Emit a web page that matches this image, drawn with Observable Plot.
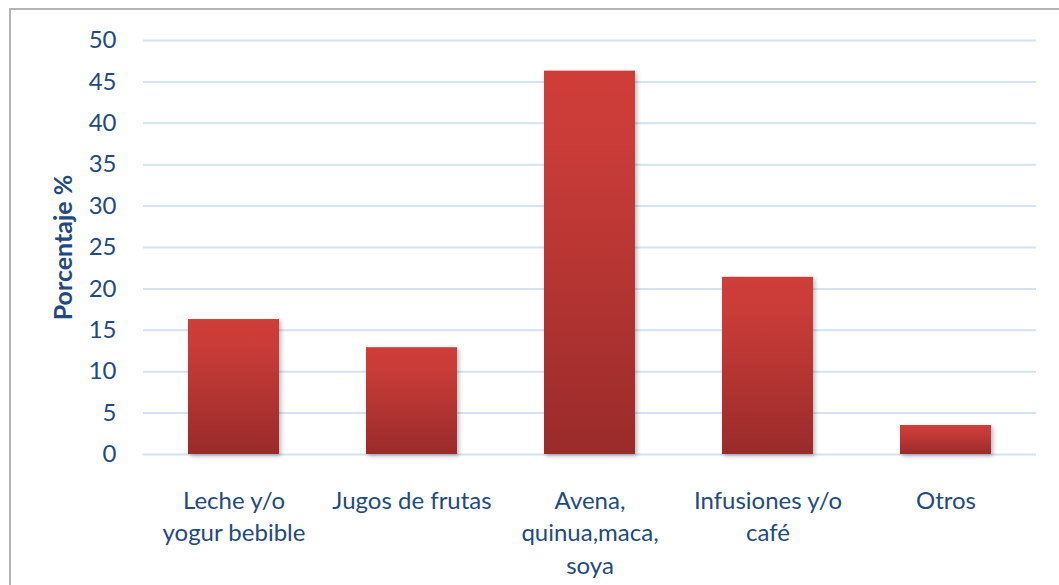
<!DOCTYPE html>
<html>
<head>
<meta charset="utf-8">
<script src="https://cdn.jsdelivr.net/npm/d3@7"></script>
<script src="https://cdn.jsdelivr.net/npm/@observablehq/plot@0.6"></script>
<style>
  html, body { margin: 0; padding: 0; background: #fff; }
  #wrap { position: relative; width: 1059px; height: 585px; overflow: hidden; }
  #frame { position: absolute; left: 9px; top: 8px; width: 1070px; height: 600px; border: 2px solid #b4b4b4; box-sizing: border-box; }
  #chart { position: absolute; left: 0; top: 0; }
</style>
</head>
<body>
<div id="wrap"><div id="frame"></div><div id="chart"></div></div>
<script>
const categories = ["Leche y/o yogur bebible", "Jugos de frutas", "Avena, quinua,maca, soya", "Infusiones y/o café", "Otros"];
const tickLabels = ["Leche y/o\nyogur bebible", "Jugos de frutas", "Avena,\nquinua,maca,\nsoya", "Infusiones y/o\ncafé", "Otros"];
const values = [16.3, 12.9, 46.3, 21.4, 3.5];
const yTicks = [0, 5, 10, 15, 20, 25, 30, 35, 40, 45, 50];

const data = categories.map((c, i) => ({category: c, value: values[i]}));
const labelOf = new Map(categories.map((c, i) => [c, tickLabels[i]]));
const textColor = "#234a7d";

const chart = Plot.plot({
  width: 1059,
  height: 585,
  marginLeft: 143,
  marginRight: 23,
  marginTop: 40,
  marginBottom: 131,
  style: {fontFamily: "Lato, 'Open Sans', sans-serif", background: "transparent"},
  x: {domain: categories, paddingInner: 0.49, paddingOuter: 0.245},
  y: {domain: [0, 50]},
  marks: [
    Plot.ruleY(yTicks, {stroke: "#d5e2f2", strokeWidth: 2}),
    Plot.barY(data, {x: "category", y: "value", fill: "url(#barGrad)", className: "bars"}),
    Plot.axisY({ticks: yTicks, tickSize: 0, tickPadding: 27, fontSize: 24, fill: textColor, label: null}),
    Plot.axisX({tickSize: 0, tickPadding: 31, fontSize: 24, fill: textColor, lineHeight: 1.36, label: null, tickFormat: d => labelOf.get(d)}),
    Plot.text(["Porcentaje %"], {frameAnchor: "left", textAnchor: "middle", dx: -80, rotate: -90, fontSize: 25, fontWeight: "bold", fill: textColor, text: d => d})
  ]
});

const svg = d3.select(chart);
const defs = svg.insert("defs", ":first-child");
const grad = defs.append("linearGradient").attr("id", "barGrad").attr("x1", 0).attr("y1", 0).attr("x2", 0).attr("y2", 1);
grad.append("stop").attr("offset", "0%").attr("stop-color", "#cf3d38");
grad.append("stop").attr("offset", "20%").attr("stop-color", "#c93c38");
grad.append("stop").attr("offset", "100%").attr("stop-color", "#992b2a");
svg.selectAll(".bars").style("filter", "drop-shadow(2px 2px 2px rgba(0,0,0,0.28))");

document.getElementById("chart").appendChild(chart);
</script>
</body>
</html>
